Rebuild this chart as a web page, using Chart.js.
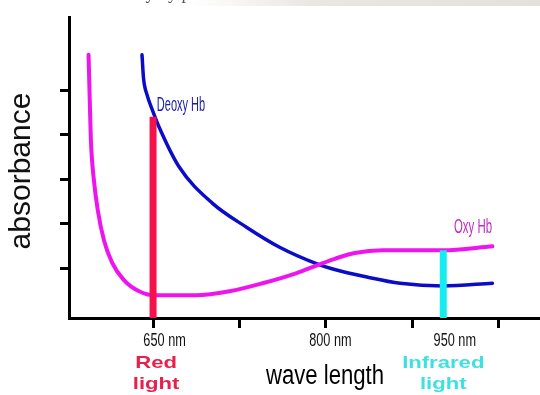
<!DOCTYPE html>
<html>
<head>
<meta charset="utf-8">
<script src="https://cdn.jsdelivr.net/npm/chart.js@4.4.1/dist/chart.umd.min.js"></script>
<style>
  html, body { margin: 0; padding: 0; background: #fff; }
  #wrap { width: 540px; height: 395px; position: relative; }
</style>
</head>
<body>
<div id="wrap"><canvas id="chart"></canvas></div>
<script>
// schematic wavelength axis (nm-like units) and absorbance units
var oxyX   = [594, 595, 596, 598.6, 602, 607.3, 614.3, 624.7, 637.8, 650.9, 687.5, 716.3, 745, 774.7, 793, 807.8, 825.2, 849.7, 902, 944.7];
var oxyY   = [5.79, 4.78, 3.88, 2.98, 2.30, 1.63, 1.13, 0.73, 0.48, 0.39, 0.39, 0.48, 0.66, 0.89, 1.07, 1.21, 1.34, 1.40, 1.40, 1.49];
var deoxyX = [640.4, 641.7, 644.8, 650, 655.2, 672.7, 701.4, 731.1, 759.9, 793, 806.1, 835.7, 864.5, 902, 944.7];
var deoxyY = [5.79, 5.27, 4.89, 4.51, 4.17, 3.27, 2.46, 1.92, 1.47, 1.09, 0.98, 0.80, 0.66, 0.60, 0.66];

var xTicks = [650, 725, 800, 875, 950];
var yTicks = [1, 2, 3, 4, 5];
var xLabels    = ['650 nm', '800 nm', '950 nm'];
var xLabelPos  = [660, 804, 912];

var redBarX = 650,  redBarTop = 4.4;
var irBarX  = 902,  irBarTop  = 1.40;

var xMin = 577, xMax = 986, yMin = -0.12, yMax = 6.64;

function pts(xs, ys) {
  return xs.map(function(x, i) { return { x: x, y: ys[i] } });
}

function drawText(ctx, text, x, y, font, color, sx) {
  ctx.save();
  ctx.translate(x, y);
  ctx.scale(sx, 1);
  ctx.font = font;
  ctx.fillStyle = color;
  ctx.textAlign = 'center';
  ctx.textBaseline = 'middle';
  ctx.fillText(text, 0, 0);
  ctx.restore();
}

var labelsPlugin = {
  id: 'labels',
  afterDraw: function(chart) {
    var ctx = chart.ctx;
    var xs = chart.scales.x;

    // cropped caption strip at the very top
    ctx.save();
    var g = ctx.createLinearGradient(190, 0, 540, 0);
    g.addColorStop(0, 'rgba(235,232,228,0)');
    g.addColorStop(0.35, 'rgba(234,230,226,1)');
    g.addColorStop(1, 'rgba(228,224,220,1)');
    ctx.fillStyle = g;
    ctx.fillRect(190, 0, 350, 6);
    ctx.font = '18px "Liberation Serif"';
    ctx.fillStyle = '#555';
    ctx.textBaseline = 'alphabetic';
    ctx.fillText('detected for a variety by photo diodes.', 2, -1);
    ctx.restore();

    for (var i = 0; i < xLabels.length; i++) {
      drawText(ctx, xLabels[i], xs.getPixelForValue(xLabelPos[i]), 341, '19px "Liberation Sans"', '#111', 0.67);
    }
    drawText(ctx, 'Red', xs.getPixelForValue(redBarX) + 3, 363, 'bold 17px "Liberation Sans"', '#e8204c', 1.3);
    drawText(ctx, 'light', xs.getPixelForValue(redBarX) + 3, 384, 'bold 17px "Liberation Sans"', '#e8204c', 1.3);
    drawText(ctx, 'Infrared', xs.getPixelForValue(irBarX), 363, 'bold 17px "Liberation Sans"', '#3fe0e0', 1.3);
    drawText(ctx, 'light', xs.getPixelForValue(irBarX), 384, 'bold 17px "Liberation Sans"', '#3fe0e0', 1.3);
    drawText(ctx, 'wave length', 325, 377, '27px "Liberation Sans"', '#000', 0.82);

    drawText(ctx, 'Deoxy Hb', 181, 105, '20px "Liberation Sans"', '#1c1ca8', 0.55);
    drawText(ctx, 'Oxy Hb', 473, 227, '20px "Liberation Sans"', '#c02cc0', 0.57);

    ctx.save();
    ctx.translate(22, 171);
    ctx.rotate(-Math.PI / 2);
    ctx.font = '30px "Liberation Sans"';
    ctx.fillStyle = '#111';
    ctx.textAlign = 'center';
    ctx.textBaseline = 'middle';
    ctx.fillText('absorbance', 0, 0);
    ctx.restore();
  }
};

new Chart(document.getElementById('chart'), {
  type: 'line',
  data: {
    datasets: [
      {
        label: 'Red light',
        data: [{ x: redBarX, y: yMin }, { x: redBarX, y: redBarTop }],
        borderColor: '#f4124a',
        borderWidth: 7,
        borderCapStyle: 'butt',
        pointRadius: 0
      },
      {
        label: 'Infrared light',
        data: [{ x: irBarX, y: yMin }, { x: irBarX, y: irBarTop }],
        borderColor: '#14ecf0',
        borderWidth: 7,
        borderCapStyle: 'butt',
        pointRadius: 0
      },
      {
        label: 'Oxy Hb',
        data: pts(oxyX, oxyY),
        borderColor: '#ee14ee',
        borderWidth: 4,
        cubicInterpolationMode: 'monotone',
        borderCapStyle: 'round',
        pointRadius: 0
      },
      {
        label: 'Deoxy Hb',
        data: pts(deoxyX, deoxyY),
        borderColor: '#0c0cc8',
        borderWidth: 3.5,
        cubicInterpolationMode: 'monotone',
        borderCapStyle: 'round',
        pointRadius: 0
      }
    ]
  },
  options: {
    responsive: true,
    maintainAspectRatio: false,
    animation: false,
    layout: { padding: { left: 60, top: 17, right: 0, bottom: 67 } },
    plugins: { legend: { display: false }, tooltip: { enabled: false } },
    scales: {
      x: {
        type: 'linear', min: xMin, max: xMax,
        afterBuildTicks: function(s) { s.ticks = xTicks.map(function(v) { return { value: v } }) },
        ticks: { display: false },
        grid: { drawOnChartArea: false, tickLength: 10, tickColor: '#000', tickWidth: 3 },
        border: { color: '#000', width: 3 }
      },
      y: {
        type: 'linear', min: yMin, max: yMax,
        afterBuildTicks: function(s) { s.ticks = yTicks.map(function(v) { return { value: v } }) },
        ticks: { display: false },
        grid: { drawOnChartArea: false, tickLength: 9, tickColor: '#000', tickWidth: 3 },
        border: { color: '#000', width: 3 }
      }
    }
  },
  plugins: [labelsPlugin]
});
</script>
</body>
</html>
